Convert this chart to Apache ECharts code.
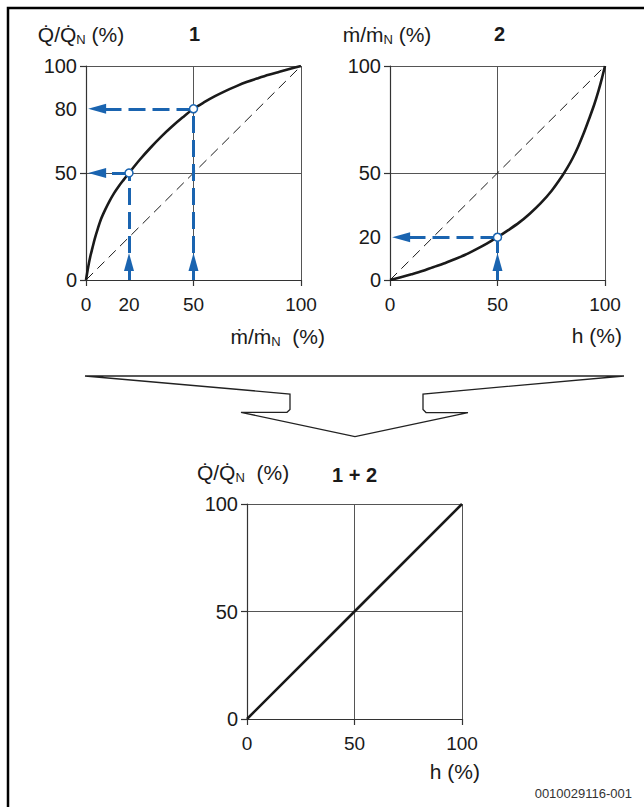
<!DOCTYPE html>
<html>
<head>
<meta charset="utf-8">
<script src="https://cdn.jsdelivr.net/npm/echarts@6/dist/echarts.min.js"></script>
<style>
html,body{margin:0;padding:0;background:#fff;}
#c{width:644px;height:807px;}
</style>
</head>
<body>
<div id="c"></div>
<script>
// ---------- data ----------
const curve1 = [[0,0],[1,6],[2,11],[3,15],[4,19],[5.5,24],[7,28.5],[9,33],[11,37],[13,40.5],[15,43.5],
  [17.5,46.8],[20,50],[25,56.2],[30,61.8],[35,67],[40,71.7],[45,76],[50,80],[55,83.1],[60,85.9],[65,88.4],
  [70,90.6],[75,92.6],[80,94.3],[85,95.9],[90,97.3],[95,98.7],[100,100]];
const curve2 = [[0,0],[5,1.3],[10,2.7],[15,4.2],[20,6],[25,7.7],[30,9.7],[35,11.8],[40,14.3],[45,17],[50,20],
  [55,23.3],[60,26.8],[65,31],[70,35.8],[75,41.5],[80,48.5],[82.5,52.5],[85,57],[87.5,62.3],[90,68.3],[92.5,75],
  [95,82],[97,88.5],[98.5,94],[100,100]];
const combined = [[0,0],[50,50],[100,100]];
const diagonal = [[0,0],[100,100]];
const readings1 = [[20,50],[50,80]];
const readings2 = [[50,20]];
const xLabels1 = [0,20,50,100];
const yLabels1 = [0,50,80,100];
const xLabels2 = [0,50,100];
const yLabels2 = [0,20,50,100];
const labels3 = [0,50,100];

// ---------- style ----------
const FONT = "'Liberation Sans', Arial, sans-serif";
const BLUE = '#1a64b0';
const INK = '#1a1a1a';
const AX = '#333';
const FS = 19;      // x tick labels
const FSY = 20;     // y tick labels
const FN = 21;      // axis names
const ARROW = [10, 18];           // arrowhead width, length in px
const PLOT_H = 214, PLOT_W = 215;
const arrowY = ARROW[1] / PLOT_H * 100;  // arrowhead length in y-units
const arrowX = ARROW[1] / PLOT_W * 100;  // arrowhead length in x-units

const rich = {
  m: {fontSize: FN, fontFamily: FONT, color: INK, fontWeight: 'normal'},
  s: {fontSize: 13, fontFamily: FONT, color: INK, fontWeight: 'normal', padding: [10, 0, 0, 0]}
};
const SP2 = ' \u00A0';
const nameQ = '{m|Q\u0307/Q\u0307}{s|N}{m| (%)}';
const nameQ2 = '{m|Q\u0307/Q\u0307}{s|N}{m|' + SP2 + '(%)}';
const nameM = '{m|\u1E41/\u1E41}{s|N}{m| (%)}';
const nameM2 = '{m|\u1E41/\u1E41}{s|N}{m|' + SP2 + '(%)}';
const nameH = '{m|h (%)}';

function xAxis(idx, labels, name, gap, padTop) {
  return {
    type: 'value', gridIndex: idx, min: 0, max: 100, interval: 50,
    axisLine: {show: true, onZero: false, lineStyle: {color: AX, width: 1.2}},
    axisTick: {show: true, length: 6, lineStyle: {color: AX, width: 1.2}},
    splitLine: {show: true, lineStyle: {color: '#555', width: 1}},
    axisLabel: {customValues: labels, fontSize: FS, fontFamily: FONT, fontWeight: 'normal', color: INK, margin: 15},
    name: name, nameLocation: 'end', nameGap: gap,
    nameTextStyle: {align: 'right', verticalAlign: 'top', padding: [padTop, 0, 0, 0], rich: rich}
  };
}
function yAxis(idx, labels, name, shift) {
  return {
    type: 'value', gridIndex: idx, min: 0, max: 100, interval: 50,
    axisLine: {show: true, onZero: false, lineStyle: {color: AX, width: 1.2}},
    axisTick: {show: true, length: 6, lineStyle: {color: AX, width: 1.2}},
    splitLine: {show: true, lineStyle: {color: '#555', width: 1}},
    axisLabel: {customValues: labels, fontSize: FSY, fontFamily: FONT, fontWeight: 'normal', color: INK, margin: 9},
    name: name, nameLocation: 'end', nameGap: 20,
    nameTextStyle: {align: 'center', padding: [0, shift, 0, 0], rich: rich}
  };
}

function arrowSeries(idx, readings) {
  const solid = [], dashed = [];
  readings.forEach(([x, y]) => {
    // short solid stem with arrowhead rising from the x axis
    solid.push([{coord: [x, 0], symbol: 'none'}, {coord: [x, arrowY], symbol: 'triangle'}]);
    // dashed vertical from arrow tip to reading point
    dashed.push([{coord: [x, arrowY * 1.5], symbol: 'none'}, {coord: [x, y], symbol: 'none'}]);
    // dashed horizontal from point to y axis, arrowhead at axis
    dashed.push([{coord: [x, y], symbol: 'none'}, {coord: [arrowX / 2 + 1, y], symbol: 'triangle'}]);
  });
  return [
    {
      type: 'scatter', xAxisIndex: idx, yAxisIndex: idx, data: [], silent: true,
      markLine: {silent: true, animation: false, symbolSize: ARROW, label: {show: false},
        lineStyle: {color: BLUE, width: 3, type: 'solid'}, data: solid}
    },
    {
      type: 'scatter', xAxisIndex: idx, yAxisIndex: idx, data: readings, z: 5,
      symbol: 'circle', symbolSize: 8,
      itemStyle: {color: '#fff', borderColor: BLUE, borderWidth: 1.5, opacity: 1},
      markLine: {silent: true, animation: false, symbolSize: ARROW, label: {show: false},
        lineStyle: {color: BLUE, width: 3, type: [17, 7]}, data: dashed}
    }
  ];
}

const titleStyle = {fontSize: 20, fontWeight: 'bold', color: INK, fontFamily: FONT};
const chart = echarts.init(document.getElementById('c'), null, {renderer: 'svg'});
chart.setOption({
  animation: false,
  backgroundColor: '#fff',
  textStyle: {fontFamily: FONT},
  grid: [
    {left: 86, top: 66, width: PLOT_W, height: PLOT_H},
    {left: 390, top: 66, width: PLOT_W, height: PLOT_H},
    {left: 247, top: 504, width: PLOT_W, height: PLOT_H + 1}
  ],
  title: [
    {text: '1', left: 189, top: 24, padding: 0, textStyle: titleStyle},
    {text: '2', left: 494, top: 24, padding: 0, textStyle: titleStyle},
    {text: '1 + 2', left: 332, top: 465, padding: 0, textStyle: titleStyle},
    {text: '0010029116-001', right: 12, top: 787, padding: 0, textStyle: {fontSize: 13, fontWeight: 'normal', color: '#333', fontFamily: FONT}}
  ],
  xAxis: [
    xAxis(0, xLabels1, nameM2, 24, 45),
    xAxis(1, xLabels2, nameH, 17, 45),
    xAxis(2, labels3, nameH, 18, 42)
  ],
  yAxis: [
    yAxis(0, yLabels1, nameQ, 10),
    yAxis(1, yLabels2, nameM, 6),
    yAxis(2, labels3, nameQ2, 8)
  ],
  series: [
    {type: 'line', xAxisIndex: 0, yAxisIndex: 0, data: diagonal, symbol: 'none', silent: true,
     lineStyle: {color: INK, width: 1, type: [10, 6]}},
    {type: 'line', xAxisIndex: 0, yAxisIndex: 0, data: curve1, symbol: 'none', smooth: 0.3, silent: true,
     lineStyle: {color: INK, width: 2.6, join: 'round'}},
    ...arrowSeries(0, readings1),
    {type: 'line', xAxisIndex: 1, yAxisIndex: 1, data: diagonal, symbol: 'none', silent: true,
     lineStyle: {color: INK, width: 1, type: [10, 6]}},
    {type: 'line', xAxisIndex: 1, yAxisIndex: 1, data: curve2, symbol: 'none', smooth: 0.3, silent: true,
     lineStyle: {color: INK, width: 2.6, join: 'round'}},
    ...arrowSeries(1, readings2),
    {type: 'line', xAxisIndex: 2, yAxisIndex: 2, data: combined, symbol: 'none', silent: true,
     lineStyle: {color: INK, width: 2.6}}
  ],
  graphic: [
    {type: 'polyline', silent: true, shape: {points: [[8, 807], [8, 8], [644, 8]]},
     style: {stroke: '#000', lineWidth: 2.5, fill: null}},
    {type: 'polygon', silent: true,
     shape: {points: [[85, 376], [624, 376], [423, 394], [423, 409.5], [426, 412.5], [468, 412.7],
                      [355, 436.7], [241, 412.3], [287, 412.3], [290, 409.5], [290, 394]]},
     style: {stroke: '#222', lineWidth: 1.3, fill: null, lineJoin: 'miter'}}
  ]
});
</script>
</body>
</html>
